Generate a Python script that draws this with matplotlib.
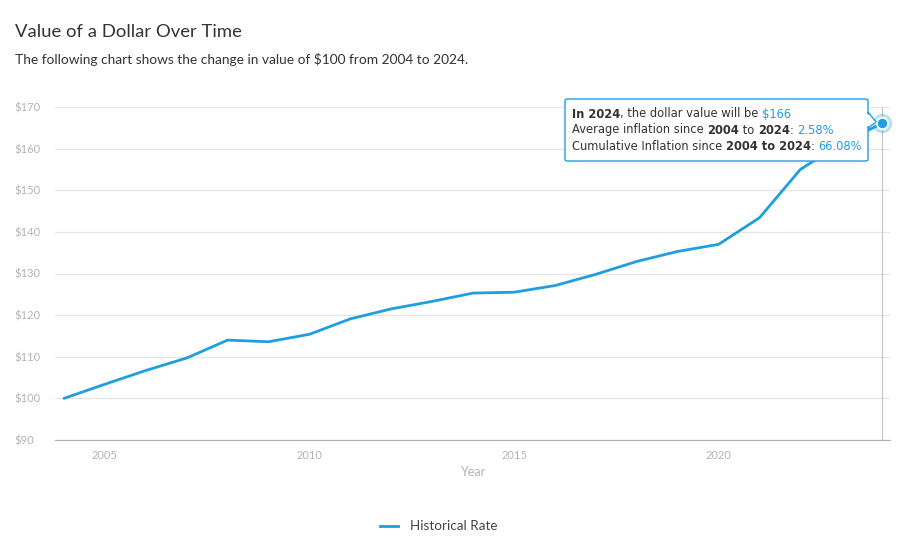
import matplotlib.pyplot as plt
from matplotlib.patches import FancyBboxPatch, Polygon

years = list(range(2004, 2025))
values = [100.0, 103.4, 106.7, 109.7, 114.0, 113.6, 115.4, 119.1, 121.5, 123.3,
          125.3, 125.5, 127.1, 129.8, 132.9, 135.3, 137.0, 143.4, 155.0, 161.3, 166.08]
yticks = [90, 100, 110, 120, 130, 140, 150, 160, 170]
xticks = [2005, 2010, 2015, 2020]

blue = '#1f9ee0'
grey_txt = '#b3b3b3'

plt.rcParams['font.family'] = ['Lato', 'DejaVu Sans']

fig = plt.figure(figsize=(9.07, 5.45), dpi=100)
ax = fig.add_axes([55/907, 105/545, 835/907, 333/545])

ax.plot(years, values, color=blue, lw=2.0, solid_capstyle='round', zorder=3)
ax.set_xlim(2003.78, 2024.19)
ax.set_ylim(90, 170)
ax.set_yticks(yticks)
ax.set_yticklabels(['$%d' % v for v in yticks])
ax.set_xticks(xticks)
ax.grid(axis='y', color='#e6e6e6', lw=0.9)
ax.set_axisbelow(True)
for s in ['top', 'right', 'left']:
    ax.spines[s].set_visible(False)
ax.spines['bottom'].set_color('#b0b0b0')
ax.tick_params(axis='both', length=0, colors=grey_txt, labelsize=8)
ax.tick_params(axis='x', pad=7)
for lab in ax.get_yticklabels():
    lab.set_horizontalalignment('left')
ax.yaxis.set_tick_params(pad=29)
ax.set_xlabel('Year', color=grey_txt, fontsize=9, labelpad=4)

# crosshair + hover marker
ax.axvline(years[-1], color='#c8c8c8', lw=0.9, zorder=2)
ax.plot(years[-1], values[-1], 'o', ms=13, color=blue, alpha=0.25, zorder=4, clip_on=False)
ax.plot(years[-1], values[-1], 'o', ms=8, color=blue, mec='white', mew=1.2, zorder=5, clip_on=False)

# tooltip
bx0, by0, bw, bh = 565/907, (545-161)/545, 303/907, 62/545
box = FancyBboxPatch((bx0, by0), bw, bh, boxstyle='round,pad=0,rounding_size=0.003',
                     transform=fig.transFigure, fc='white', ec=blue, lw=1.0, zorder=10)
fig.patches.append(box)
tri = Polygon([(bx0 + bw, (545-112)/545), (876/907, (545-122)/545), (bx0 + bw, (545-128)/545)],
              closed=True, transform=fig.transFigure, fc='white', ec=blue, lw=1.0, zorder=11)
fig.patches.append(tri)
tri2 = Polygon([(bx0 + bw - 0.0015, (545-113)/545), (875/907, (545-122)/545),
                (bx0 + bw - 0.0015, (545-127)/545)],
               closed=True, transform=fig.transFigure, fc='white', ec='none', zorder=12)
fig.patches.append(tri2)

tt = dict(family='DejaVu Sans', fontsize=8.3, color='#333333', va='center', zorder=13)


def line(y, parts):
    x = 572 / 907
    r = fig.canvas.get_renderer()
    for txt, bold, col in parts:
        t = fig.text(x, (545 - y) / 545, txt, fontweight='bold' if bold else 'normal',
                     **dict(tt, color=col))
        bb = t.get_window_extent(renderer=r)
        x += bb.width / fig.bbox.width


dark = '#333333'
line(114, [('In 2024', True, dark), (', the dollar value will be ', False, dark), ('$166', False, blue)])
line(130, [('Average inflation since ', False, dark), ('2004', True, dark), (' to ', False, dark),
           ('2024', True, dark), (': ', False, dark), ('2.58%', False, blue)])
line(146, [('Cumulative Inflation since ', False, dark), ('2004 to 2024', True, dark),
           (': ', False, dark), ('66.08%', False, blue)])

fig.text(15/907, 1 - 32/545, 'Value of a Dollar Over Time', fontsize=13.3, color='#333333', va='center')
fig.text(15/907, 1 - 59/545, 'The following chart shows the change in value of $100 from 2004 to 2024.',
         fontsize=9.9, color='#333333', va='center')

# legend
fig.lines.append(plt.Line2D([380/907, 398/907], [1 - 526/545] * 2, color=blue, lw=2.0,
                            transform=fig.transFigure))
fig.text(410/907, 1 - 526/545, 'Historical Rate', fontsize=9.7, color='#444444', va='center')

fig.savefig('out.png', dpi=100)
